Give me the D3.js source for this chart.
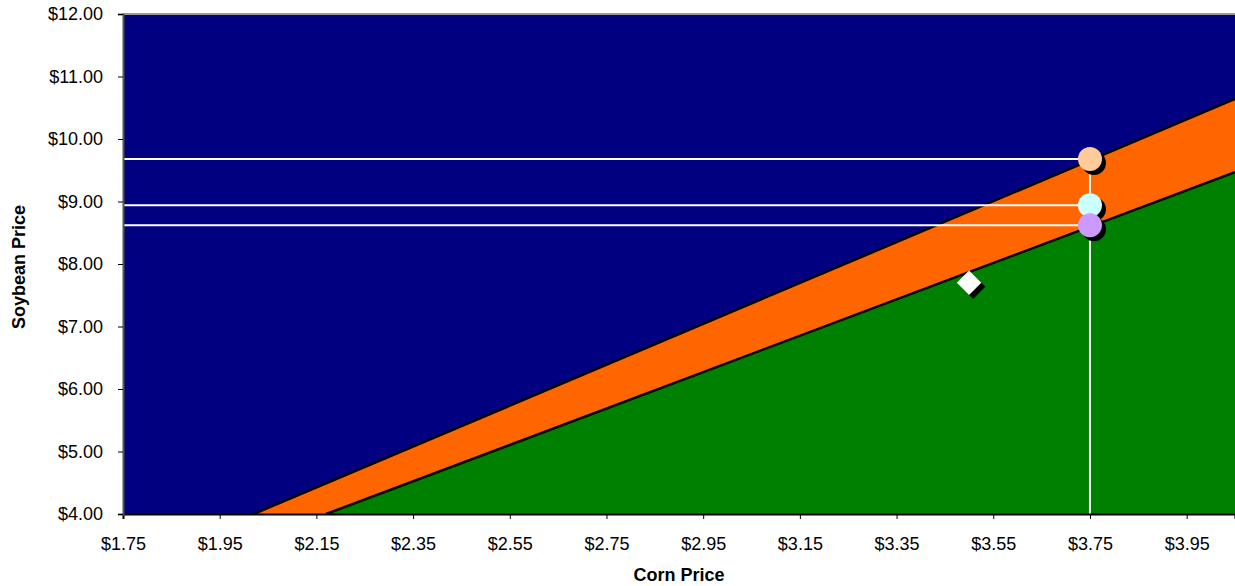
<!doctype html>
<html>
<head>
<meta charset="utf-8">
<style>
  body { margin: 0; background: #fff; }
  text { font-family: "Liberation Sans", Arial, sans-serif; }
</style>
</head>
<body>
<svg id="chart" width="1235" height="586"></svg>
<script src="https://d3js.org/d3.v7.min.js"></script>
<script>
// break-even lines (corn price, soybean price)
const upperLine = [[2.02, 4.00], [4.05, 10.64]];
const lowerLine = [[2.17, 4.00], [4.05, 9.47]];

// markers at current corn price
const markerCorn = 3.75;
const markerSoy = [9.68, 8.94, 8.62];
const markerColors = ["#FFCC99", "#CCFFFF", "#CC99FF"];

// diamond point
const diamondCorn = 3.50;
const diamondSoy = 7.70;

const xTicks = [1.75, 1.95, 2.15, 2.35, 2.55, 2.75, 2.95, 3.15, 3.35, 3.55, 3.75, 3.95];
const yTicks = [4, 5, 6, 7, 8, 9, 10, 11, 12];

let margin = { top: 14, right: 0, bottom: 72, left: 123 };
let width = 1235 - margin.left - margin.right;
let height = 586 - margin.top - margin.bottom;

let svg = d3.select("#chart")
  .append("g")
  .attr("transform", "translate(" + margin.left + "," + margin.top + ")");

let x = d3.scaleLinear().domain([1.75, 4.05]).range([0, width]);
let y = d3.scaleLinear().domain([4, 12]).range([height, 0]);

// background region
svg.append("rect")
  .attr("width", width)
  .attr("height", height)
  .attr("fill", "#000080");

let area = d3.area()
  .x(d => x(d[0]))
  .y0(y(4))
  .y1(d => y(d[1]));

svg.append("path").datum(upperLine).attr("d", area).attr("fill", "#FF6600");
svg.append("path").datum(lowerLine).attr("d", area).attr("fill", "#008000");

let line = d3.line().x(d => x(d[0])).y(d => y(d[1]));
[upperLine, lowerLine].forEach(l => {
  svg.append("path").datum(l)
    .attr("d", line)
    .attr("fill", "none")
    .attr("stroke", "#000")
    .attr("stroke-width", 2.5);
});

// top border
svg.append("line")
  .attr("x1", 0).attr("x2", width)
  .attr("y1", 0).attr("y2", 0)
  .attr("stroke", "#999").attr("stroke-width", 2);

// white guide lines
markerSoy.forEach(s => {
  svg.append("line")
    .attr("x1", 0).attr("x2", x(markerCorn))
    .attr("y1", y(s)).attr("y2", y(s))
    .attr("stroke", "#fff").attr("stroke-width", 2);
});
svg.append("line")
  .attr("x1", x(markerCorn)).attr("x2", x(markerCorn))
  .attr("y1", y(d3.max(markerSoy))).attr("y2", y(4))
  .attr("stroke", "#fff").attr("stroke-width", 2);

// diamond with shadow
let diamond = d3.symbol().type(d3.symbolSquare).size(300);
svg.append("path")
  .attr("d", diamond)
  .attr("transform", `translate(${x(diamondCorn) + 4},${y(diamondSoy) + 4}) rotate(45)`)
  .attr("fill", "#000");
svg.append("path")
  .attr("d", diamond)
  .attr("transform", `translate(${x(diamondCorn)},${y(diamondSoy)}) rotate(45)`)
  .attr("fill", "#fff");

// circle markers with shadow
markerSoy.forEach((s, i) => {
  svg.append("circle")
    .attr("cx", x(markerCorn) + 4).attr("cy", y(s) + 4).attr("r", 12)
    .attr("fill", "#000");
  svg.append("circle")
    .attr("cx", x(markerCorn)).attr("cy", y(s)).attr("r", 12)
    .attr("fill", markerColors[i]);
});

// axes
let xAxis = svg.append("g")
  .attr("transform", "translate(0," + height + ")")
  .call(d3.axisBottom(x).tickValues(xTicks).tickSize(5).tickPadding(18)
    .tickFormat(d => "$" + d3.format(".2f")(d)));
let yAxis = svg.append("g")
  .call(d3.axisLeft(y).tickValues(yTicks).tickSize(5).tickPadding(15)
    .tickFormat(d => "$" + d3.format(".2f")(d)));

[xAxis, yAxis].forEach(a => {
  a.selectAll("text").attr("font-size", "18px").attr("font-family", "Liberation Sans, Arial, sans-serif").attr("fill", "#000");
  a.selectAll(".tick line").attr("stroke", "#000");
});
xAxis.select(".domain").attr("stroke", "#000").attr("stroke-width", 2);
yAxis.select(".domain").attr("stroke", "#555").attr("stroke-width", 2);

// axis labels
svg.append("text")
  .attr("text-anchor", "middle")
  .attr("x", 679 - margin.left)
  .attr("y", 581 - margin.top)
  .attr("font-size", "18px")
  .attr("font-weight", "bold")
  .text("Corn Price");

svg.append("text")
  .attr("text-anchor", "middle")
  .attr("transform", "rotate(-90)")
  .attr("x", -(267 - margin.top))
  .attr("y", 25 - margin.left)
  .attr("font-size", "18px")
  .attr("font-weight", "bold")
  .text("Soybean Price");
</script>
</body>
</html>
